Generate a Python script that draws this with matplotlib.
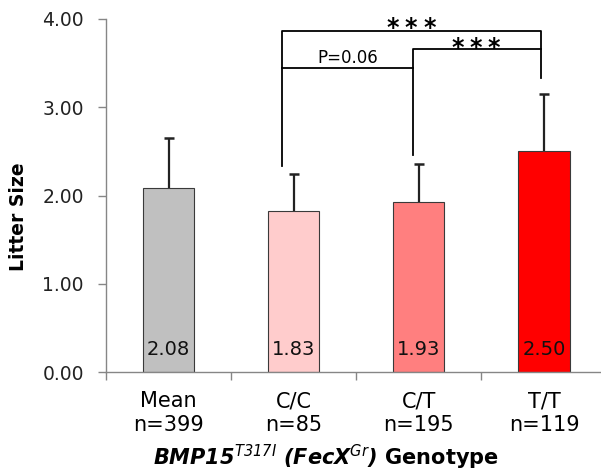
import matplotlib
matplotlib.use("Agg")
import matplotlib.pyplot as plt
import numpy as np

categories = ["Mean\nn=399", "C/C\nn=85", "C/T\nn=195", "T/T\nn=119"]
values = [2.08, 1.83, 1.93, 2.50]
errors = [0.57, 0.41, 0.43, 0.65]
bar_colors = ["#C0C0C0", "#FFCCCC", "#FF7F7F", "#FF0000"]
value_labels = ["2.08", "1.83", "1.93", "2.50"]
yticks = [0, 1, 2, 3, 4]

plt.rcParams['mathtext.fontset'] = 'custom'
plt.rcParams['mathtext.rm'] = 'DejaVu Sans:italic:bold'
plt.rcParams['mathtext.it'] = 'DejaVu Sans:italic:bold'
plt.rcParams['mathtext.bf'] = 'DejaVu Sans:bold'
plt.rcParams['mathtext.sf'] = 'DejaVu Sans:bold'
plt.rcParams['mathtext.cal'] = 'DejaVu Sans:italic'

W, H = 601, 472
fig = plt.figure(figsize=(W/100, H/100), dpi=100)
ax_left, ax_right, ax_top, ax_bot = 106, 601, 19, 372
ax = fig.add_axes([ax_left/W, 1-ax_bot/H, (ax_right-ax_left)/W, (ax_bot-ax_top)/H])

x = np.arange(len(values))
vals = np.array(values)
errs = np.array(errors)
ax.bar(x, vals, width=0.41, color=bar_colors, edgecolor="#3a3a3a", linewidth=0.8, zorder=2)
ax.vlines(x, vals, vals + errs, color='#222222', lw=1.6, zorder=3)
ax.plot(x, vals + errs, ls='none', marker='_', markersize=7, markeredgewidth=1.8,
        color='#222222', zorder=3)
for xi, lab in zip(x, value_labels):
    ax.text(xi, 0.25, lab, ha='center', va='center', fontsize=14, color='#111111', zorder=4)

ax.set_xlim(-0.5, (601-169)/125)
ax.set_ylim(0, 4)
ax.set_yticks(yticks)
ax.set_yticklabels([f"{v:.2f}" for v in yticks])
ax.set_xticks(x)
ax.set_xticklabels(categories)
ax.set_xticks(np.arange(len(values)) - 0.5, minor=True)
ax.tick_params(axis='x', which='major', length=0, pad=14, labelsize=15, colors='black')
ax.tick_params(axis='x', which='minor', length=6, width=1, color='#868686', direction='out')
ax.tick_params(axis='y', length=6, width=1, color='#868686', pad=10, labelsize=13.5, labelcolor='#222222')
for s in ['top', 'right']:
    ax.spines[s].set_visible(False)
for s in ['left', 'bottom']:
    ax.spines[s].set_color('#868686')
    ax.spines[s].set_linewidth(1)

# significance brackets
lw = 1.3
ax.plot([0.91, 0.91, 2.98, 2.98], [2.33, 3.86, 3.86, 3.33], color='black', lw=lw, clip_on=False)
ax.plot([1.95, 1.95, 2.98], [2.46, 3.66, 3.66], color='black', lw=lw, clip_on=False)
ax.plot([0.91, 1.95], [3.45, 3.45], color='black', lw=lw, clip_on=False)
for sx in [1.792, 1.936, 2.088]:
    ax.text(sx, 3.823, "*", ha='center', va='baseline', fontsize=17, fontweight='bold', clip_on=False)
for sx in [2.314, 2.456, 2.600]:
    ax.text(sx, 3.591, "*", ha='center', va='baseline', fontsize=17, fontweight='bold', clip_on=False)
ax.text(1.43, 3.46, "P=0.06", ha='center', va='bottom', fontsize=12)

fig.text(19/W, 1-217/H, "Litter Size", rotation=90, ha='center', va='center',
         fontsize=13.5, fontweight='bold')
fig.text(326/W, 1-457/H,
         r"$\mathrm{BMP15}^{\mathcal{T317I}}\ \mathrm{(FecX}^{\mathcal{Gr}}\mathrm{)}\ \mathsf{Genotype}$",
         ha='center', va='center', fontsize=15)

fig.savefig("out.png", dpi=100)
